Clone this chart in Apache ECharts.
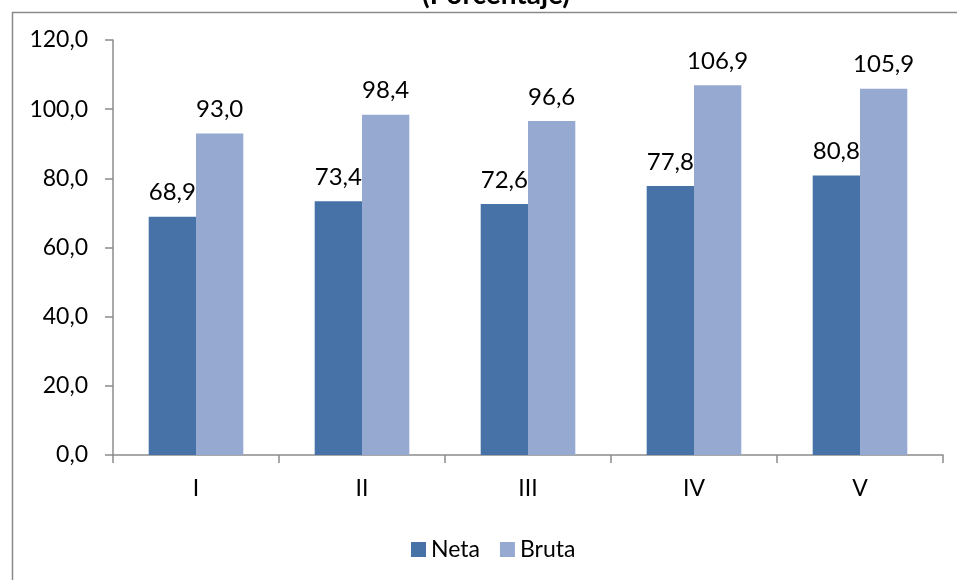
<!DOCTYPE html>
<html>
<head>
<meta charset="utf-8">
<script src="https://cdn.jsdelivr.net/npm/echarts@6/dist/echarts.min.js"></script>
<style>
  html, body { margin: 0; padding: 0; background: #fff; }
  #chart { width: 957px; height: 580px; }
</style>
</head>
<body>
<div id="chart"></div>
<script>
const categories = ['I', 'II', 'III', 'IV', 'V']
const neta = [68.9, 73.4, 72.6, 77.8, 80.8]
const bruta = [93.0, 98.4, 96.6, 106.9, 105.9]
const seriesNames = ['Neta', 'Bruta']
const colors = ['#4672A7', '#95A9D1']

const font = 'Lato, "Open Sans", sans-serif'
const fmt = v => v.toFixed(1).replace('.', ',')
const axisGray = '#8c8c8c'

const chart = echarts.init(document.getElementById('chart'))
chart.setOption({
  animation: false,
  textStyle: { fontFamily: font },
  title: {
    text: '(Porcentaje)',
    left: 491,
    textAlign: 'center',
    top: -24,
    textStyle: { fontSize: 28, fontWeight: 'bold', color: '#000', fontFamily: font }
  },
  graphic: [{
    type: 'rect',
    left: 10,
    top: 10,
    shape: { width: 1200, height: 900 },
    style: { fill: 'none', stroke: '#8a8a8a', lineWidth: 1.5 },
    silent: true
  }],
  color: colors,
  legend: {
    left: 406,
    top: 533,
    itemWidth: 15,
    itemHeight: 15,
    itemGap: 20,
    icon: 'rect',
    textStyle: { fontSize: 23, color: '#000', fontFamily: font },
    data: seriesNames
  },
  grid: { left: 113, right: 14, top: 40, bottom: 125 },
  xAxis: {
    type: 'category',
    data: categories,
    axisLine: { lineStyle: { color: axisGray, width: 1.5 } },
    axisTick: { show: true, length: 8, lineStyle: { color: axisGray, width: 1.5 } },
    axisLabel: { fontSize: 23, color: '#000', margin: 22, fontFamily: font }
  },
  yAxis: {
    type: 'value',
    min: 0,
    max: 120,
    interval: 20,
    splitLine: { show: false },
    axisLine: { show: true, lineStyle: { color: axisGray, width: 1.5 } },
    axisTick: { show: true, length: 8, lineStyle: { color: axisGray, width: 1.5 } },
    axisLabel: { fontSize: 23, color: '#000', margin: 25, fontFamily: font, formatter: fmt }
  },
  series: [{
    name: seriesNames[0],
    type: 'bar',
    data: neta,
    barGap: '0%',
    barCategoryGap: '43%',
    label: { show: true, position: 'top', distance: 12, fontSize: 24, color: '#000', fontFamily: font, formatter: p => fmt(p.value) }
  }, {
    name: seriesNames[1],
    type: 'bar',
    data: bruta,
    barGap: '0%',
    barCategoryGap: '43%',
    label: { show: true, position: 'top', distance: 12, fontSize: 24, color: '#000', fontFamily: font, formatter: p => fmt(p.value) }
  }]
})
</script>
</body>
</html>
